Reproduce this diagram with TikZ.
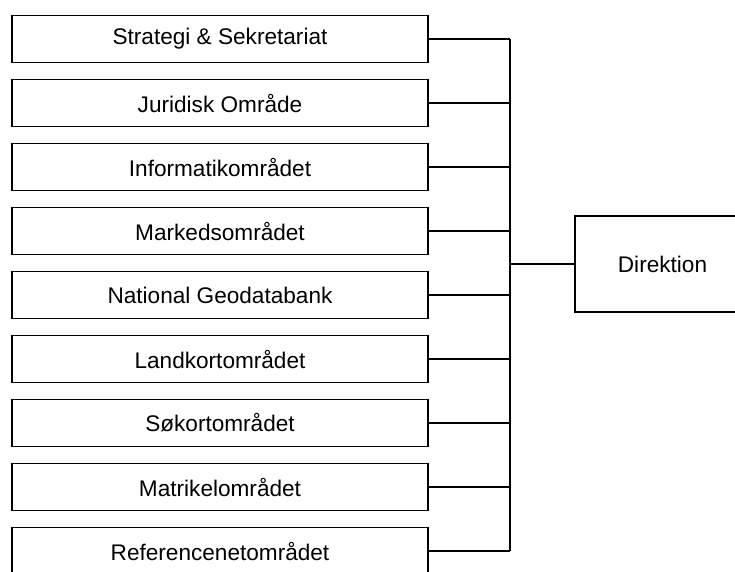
\documentclass[tikz,border=0pt]{standalone}
\usepackage{fontspec}
\setmainfont{Liberation Sans}
\begin{document}
\begin{tikzpicture}[x=1pt,y=1pt,
  unitbox/.style={draw, line width=1.8pt, minimum width=416pt, minimum height=47pt, inner sep=0pt, font=\fontsize{22.6}{26}\selectfont},
  dirbox/.style={draw, line width=1.8pt, minimum width=175pt, minimum height=96pt, inner sep=0pt, font=\fontsize{22.6}{26}\selectfont},
  conn/.style={line width=1.8pt}]
\useasboundingbox (0,0) rectangle (735,-571);
\node[unitbox] (b1) at (220,-39) {Strategi \& Sekretariat};
\node[unitbox] (b2) at (220,-103) {Juridisk Område};
\node[unitbox] (b3) at (220,-167) {Informatikområdet};
\node[unitbox] (b4) at (220,-231) {Markedsområdet};
\node[unitbox] (b5) at (220,-295) {National Geodatabank};
\node[unitbox] (b6) at (220,-359) {Landkortområdet};
\node[unitbox] (b7) at (220,-423) {Søkortområdet};
\node[unitbox] (b8) at (220,-487) {Matrikelområdet};
\node[unitbox] (b9) at (220,-551) {Referencenetområdet};
\node[dirbox] (dir) at (662.5,-264) {Direktion};
\coordinate (sp) at (510,0);
\foreach \i in {1,...,9} {\draw[conn] (b\i.east) -- (b\i.east -| sp);}
\draw[conn] (b1.east -| sp) -- (b9.east -| sp);
\draw[conn] (dir.west) -- (dir.west -| sp);
\end{tikzpicture}
\end{document}
